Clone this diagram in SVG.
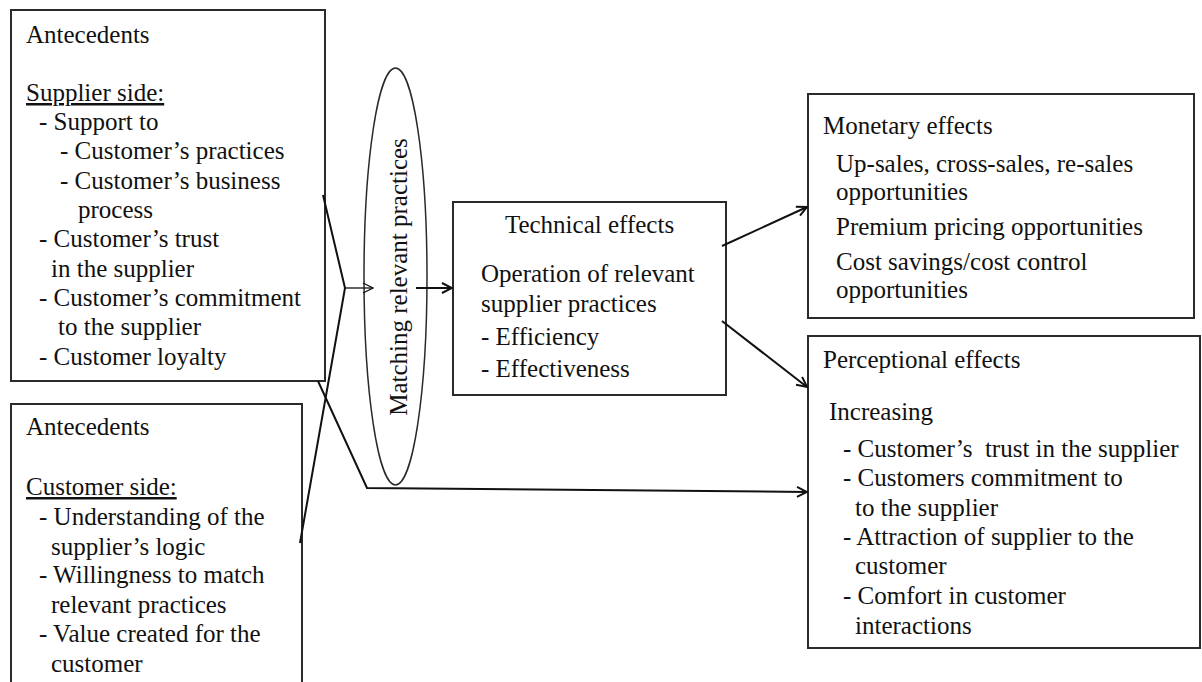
<svg xmlns="http://www.w3.org/2000/svg" width="1202" height="682" viewBox="0 0 1202 682">
  <style>
    .box { fill: #fff; stroke: #2a2a2a; stroke-width: 2; }
    .t { font-family: "Liberation Serif", "Times New Roman", serif; font-size: 25px; fill: #111; }
    .u { text-decoration: underline; }
    .pre { white-space: pre; }
    .wire { fill: none; stroke: #111; stroke-width: 2; }
    .thin { fill: none; stroke: #111; stroke-width: 1.3; }
  </style>
  <defs>
    <marker id="head" viewBox="0 0 12 12" refX="11" refY="6" markerWidth="12" markerHeight="12" markerUnits="userSpaceOnUse" orient="auto">
      <path d="M1,1 L11,6 L1,11" fill="none" stroke="#111" stroke-width="2"/>
    </marker>
    <marker id="headThin" viewBox="0 0 12 12" refX="11" refY="6" markerWidth="12" markerHeight="12" markerUnits="userSpaceOnUse" orient="auto">
      <path d="M1,1 L11,6 L1,11" fill="none" stroke="#111" stroke-width="1.3"/>
    </marker>
  </defs>
  <rect width="1202" height="682" fill="#fff"/>

  <!-- Supplier-side antecedents -->
  <g id="supplier-antecedents">
    <rect class="box" x="11" y="10" width="314" height="371"/>
    <text class="t" x="26" y="43">Antecedents</text>
    <text class="t u" x="26" y="101">Supplier side:</text>
    <text class="t" x="39" y="130">- Support to</text>
    <text class="t" x="60" y="159">- Customer’s practices</text>
    <text class="t" x="60" y="189">- Customer’s business</text>
    <text class="t" x="78" y="218">process</text>
    <text class="t" x="39" y="247">- Customer’s trust</text>
    <text class="t" x="51" y="277">in the supplier</text>
    <text class="t" x="39" y="306">- Customer’s commitment</text>
    <text class="t" x="58" y="335">to the supplier</text>
    <text class="t" x="39" y="365">- Customer loyalty</text>
  </g>

  <!-- Customer-side antecedents (box runs past the lower edge) -->
  <g id="customer-antecedents">
    <rect class="box" x="11" y="404" width="291" height="300"/>
    <text class="t" x="26" y="435">Antecedents</text>
    <text class="t u" x="26" y="495">Customer side:</text>
    <text class="t" x="39" y="525">- Understanding of the</text>
    <text class="t" x="51" y="555">supplier’s logic</text>
    <text class="t" x="39" y="583">- Willingness to match</text>
    <text class="t" x="51" y="613">relevant practices</text>
    <text class="t" x="39" y="642">- Value created for the</text>
    <text class="t" x="51" y="672">customer</text>
  </g>

  <!-- Matching ellipse -->
  <g id="matching">
    <ellipse cx="395.5" cy="276.5" rx="31.5" ry="208.5" fill="none" stroke="#2a2a2a" stroke-width="1.5"/>
    <text class="t" x="407" y="277" text-anchor="middle" transform="rotate(-90 407 277)">Matching relevant practices</text>
  </g>

  <!-- Technical effects -->
  <g id="technical-effects">
    <rect class="box" x="453" y="202" width="273" height="193"/>
    <text class="t" x="589.5" y="233" text-anchor="middle">Technical effects</text>
    <text class="t" x="481" y="282">Operation of relevant</text>
    <text class="t" x="481" y="312">supplier practices</text>
    <text class="t" x="481" y="345">- Efficiency</text>
    <text class="t" x="481" y="377">- Effectiveness</text>
  </g>

  <!-- Monetary effects -->
  <g id="monetary-effects">
    <rect class="box" x="808" y="94" width="386" height="224"/>
    <text class="t" x="823" y="134">Monetary effects</text>
    <text class="t" x="836" y="172">Up-sales, cross-sales, re-sales</text>
    <text class="t" x="836" y="200">opportunities</text>
    <text class="t" x="836" y="235">Premium pricing opportunities</text>
    <text class="t" x="836" y="270">Cost savings/cost control</text>
    <text class="t" x="836" y="298">opportunities</text>
  </g>

  <!-- Perceptional effects -->
  <g id="perceptional-effects">
    <rect class="box" x="808" y="336" width="392" height="312"/>
    <text class="t" x="823" y="368">Perceptional effects</text>
    <text class="t" x="829" y="420">Increasing</text>
    <text class="t pre" x="843" y="457">- Customer’s  trust in the supplier</text>
    <text class="t" x="843" y="486">- Customers commitment to</text>
    <text class="t" x="855" y="516">to the supplier</text>
    <text class="t" x="843" y="545">- Attraction of supplier to the</text>
    <text class="t" x="855" y="574">customer</text>
    <text class="t" x="843" y="604">- Comfort in customer</text>
    <text class="t" x="855" y="634">interactions</text>
  </g>

  <!-- Connectors -->
  <g id="connectors">
    <polyline class="wire" points="323,195 345,288 300,543"/>
    <line class="thin" x1="345" y1="288" x2="373" y2="288" marker-end="url(#headThin)"/>
    <line class="wire" x1="416" y1="288" x2="452" y2="288" marker-end="url(#head)"/>
    <polyline class="wire" points="318,381 367,488 807,492" marker-end="url(#head)"/>
    <line class="wire" x1="722" y1="246" x2="807" y2="207" marker-end="url(#head)"/>
    <line class="wire" x1="722" y1="321" x2="807" y2="387" marker-end="url(#head)"/>
  </g>
</svg>
